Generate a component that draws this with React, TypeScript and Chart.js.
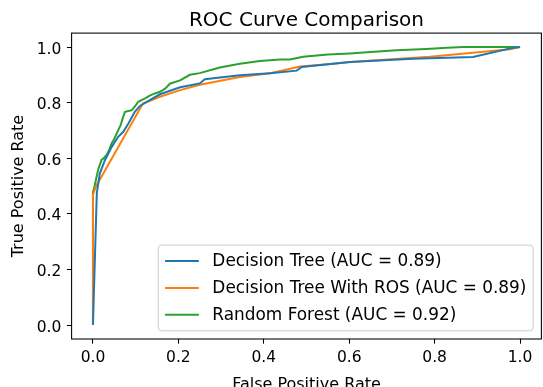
import React, { useEffect, useRef } from "react";
import { Chart, registerables } from "chart.js";

Chart.register(...registerables);

// Decision Tree
const dtFpr = [0, 0.009, 0.016, 0.028, 0.044, 0.059, 0.071, 0.083, 0.098, 0.11, 0.13, 0.157, 0.204, 0.25, 0.262, 0.344, 0.415, 0.477, 0.489, 0.602, 0.75, 0.89, 0.98, 1];
const dtTpr = [0, 0.474, 0.545, 0.593, 0.641, 0.677, 0.695, 0.725, 0.767, 0.788, 0.806, 0.83, 0.855, 0.869, 0.884, 0.898, 0.906, 0.915, 0.928, 0.946, 0.958, 0.964, 0.996, 1];
// Decision Tree With ROS
const rosFpr = [0, 0, 0.009, 0.117, 0.157, 0.204, 0.25, 0.344, 0.415, 0.485, 0.555, 0.602, 0.789, 0.977, 1];
const rosTpr = [0, 0.47, 0.504, 0.797, 0.821, 0.845, 0.864, 0.892, 0.906, 0.93, 0.939, 0.946, 0.965, 0.992, 1];
// Random Forest
const rfFpr = [0, 0, 0.004, 0.008, 0.012, 0.02, 0.025, 0.032, 0.038, 0.044, 0.05, 0.059, 0.065, 0.07, 0.075, 0.083, 0.091, 0.1, 0.106, 0.115, 0.122, 0.133, 0.145, 0.157, 0.169, 0.18, 0.204, 0.227, 0.25, 0.297, 0.344, 0.391, 0.438, 0.461, 0.492, 0.55, 0.602, 0.65, 0.711, 0.78, 0.83, 0.867, 1];
const rfTpr = [0, 0.478, 0.5, 0.53, 0.558, 0.594, 0.6, 0.612, 0.63, 0.654, 0.67, 0.7, 0.72, 0.745, 0.767, 0.77, 0.773, 0.79, 0.803, 0.81, 0.815, 0.825, 0.833, 0.839, 0.85, 0.868, 0.88, 0.9, 0.906, 0.926, 0.94, 0.95, 0.955, 0.955, 0.965, 0.973, 0.977, 0.982, 0.988, 0.993, 0.997, 1, 1];

const seriesLabels = [
  "Decision Tree (AUC = 0.89)",
  "Decision Tree With ROS (AUC = 0.89)",
  "Random Forest (AUC = 0.92)",
];
const seriesColors = ["#1f77b4", "#ff7f0e", "#2ca02c"];
const axisTicks = [0, 0.2, 0.4, 0.6, 0.8, 1.0];
const chartTitle = "ROC Curve Comparison";
const xLabel = "False Positive Rate";
const yLabel = "True Positive Rate";

const FONT = "'DejaVu Sans', sans-serif";

export default function App() {
  const ref = useRef<HTMLCanvasElement>(null);

  useEffect(() => {
    const canvas = ref.current!;
    const pairs = (xs: number[], ys: number[]) => xs.map((x, i) => ({ x, y: ys[i] }));

    const decorPlugin = {
      id: "decor",
      afterDatasetsDraw(chart: any) {
        const { ctx, chartArea: a } = chart;
        ctx.save();
        // frame
        ctx.strokeStyle = "#000";
        ctx.lineWidth = 1.07;
        ctx.strokeRect(a.left, a.top, a.right - a.left, a.bottom - a.top);
        // title
        ctx.fillStyle = "#000";
        ctx.font = `20px ${FONT}`;
        ctx.textAlign = "center";
        ctx.textBaseline = "alphabetic";
        ctx.fillText(chartTitle, (a.left + a.right) / 2, 26);
        // legend
        const fs = 16.9;
        ctx.font = `${fs}px ${FONT}`;
        const ds = chart.data.datasets;
        const tw = Math.max(...ds.map((d: any) => ctx.measureText(d.label).width));
        const bp = 0.4 * fs, hl = 2 * fs, htp = 0.8 * fs, ls = 0.5 * fs, rowH = 1.09 * fs;
        const n = ds.length;
        const boxW = 2 * bp + hl + htp + tw;
        const boxH = 2 * bp + n * rowH + (n - 1) * ls;
        const right = a.right - 8.2;
        const bottom = a.bottom - 8.2;
        const left = right - boxW;
        const top = bottom - boxH;
        ctx.beginPath();
        (ctx as any).roundRect(left, top, boxW, boxH, 3.3);
        ctx.fillStyle = "rgba(255,255,255,0.8)";
        ctx.fill();
        ctx.strokeStyle = "#cccccc";
        ctx.lineWidth = 1;
        ctx.stroke();
        ctx.textAlign = "left";
        ctx.textBaseline = "middle";
        ds.forEach((d: any, i: number) => {
          const cy = top + bp + rowH / 2 + i * (rowH + ls);
          ctx.beginPath();
          ctx.strokeStyle = d.borderColor;
          ctx.lineWidth = 2;
          ctx.moveTo(left + bp, cy);
          ctx.lineTo(left + bp + hl, cy);
          ctx.stroke();
          ctx.fillStyle = "#000";
          ctx.fillText(d.label, left + bp + hl + htp, cy + 1);
        });
        ctx.restore();
      },
    };

    const tickFont = { family: FONT, size: 15.5 };
    const labelFont = { family: FONT, size: 16 };

    const chart = new Chart(canvas, {
      type: "scatter",
      data: {
        datasets: [
          { label: seriesLabels[0], data: pairs(dtFpr, dtTpr), borderColor: seriesColors[0] },
          { label: seriesLabels[1], data: pairs(rosFpr, rosTpr), borderColor: seriesColors[1] },
          { label: seriesLabels[2], data: pairs(rfFpr, rfTpr), borderColor: seriesColors[2] },
        ].map((d) => ({
          ...d,
          showLine: true,
          pointRadius: 0,
          borderWidth: 2,
          fill: false,
          tension: 0,
          backgroundColor: d.borderColor,
        })),
      },
      plugins: [decorPlugin],
      options: {
        animation: false,
        responsive: false,
        devicePixelRatio: 1,
        layout: { padding: { top: 33.1, right: 1.6, left: 0, bottom: 0 } },
        plugins: {
          legend: { display: false },
          title: { display: false },
          tooltip: { enabled: false },
        },
        scales: {
          x: {
            type: "linear",
            min: -0.05,
            max: 1.05,
            afterBuildTicks: (s: any) => {
              s.ticks = axisTicks.map((v) => ({ value: v }));
            },
            afterFit: (s: any) => {
              s.height = 61;
            },
            border: { display: false },
            grid: {
              drawOnChartArea: false,
              drawTicks: true,
              tickLength: 4.7,
              tickWidth: 1.07,
              tickColor: "#000",
            },
            ticks: {
              color: "#000",
              font: tickFont,
              padding: 5,
              maxRotation: 0,
              autoSkip: false,
              callback: (v: any) => Number(v).toFixed(1),
            },
            title: {
              display: true,
              text: xLabel,
              color: "#000",
              font: labelFont,
              padding: { top: 0, bottom: 6 },
            },
          },
          y: {
            type: "linear",
            min: -0.05,
            max: 1.05,
            afterBuildTicks: (s: any) => {
              s.ticks = axisTicks.map((v) => ({ value: v }));
            },
            afterFit: (s: any) => {
              s.width = 71.6;
            },
            border: { display: false },
            grid: {
              drawOnChartArea: false,
              drawTicks: true,
              tickLength: 4.7,
              tickWidth: 1.07,
              tickColor: "#000",
            },
            ticks: {
              color: "#000",
              font: tickFont,
              padding: 5.5,
              labelOffset: 2.5,
              autoSkip: false,
              callback: (v: any) => Number(v).toFixed(1),
            },
            title: {
              display: true,
              text: yLabel,
              color: "#000",
              font: labelFont,
              padding: { top: 9.4, bottom: 0 },
            },
          },
        },
      },
    } as any);

    return () => chart.destroy();
  }, []);

  return (
    <div
      style={{
        position: "fixed",
        left: 0,
        top: 0,
        width: 543,
        height: 387,
        overflow: "hidden",
        background: "#fff",
      }}
    >
      <canvas ref={ref} width={543} height={400} style={{ display: "block" }} />
    </div>
  );
}
